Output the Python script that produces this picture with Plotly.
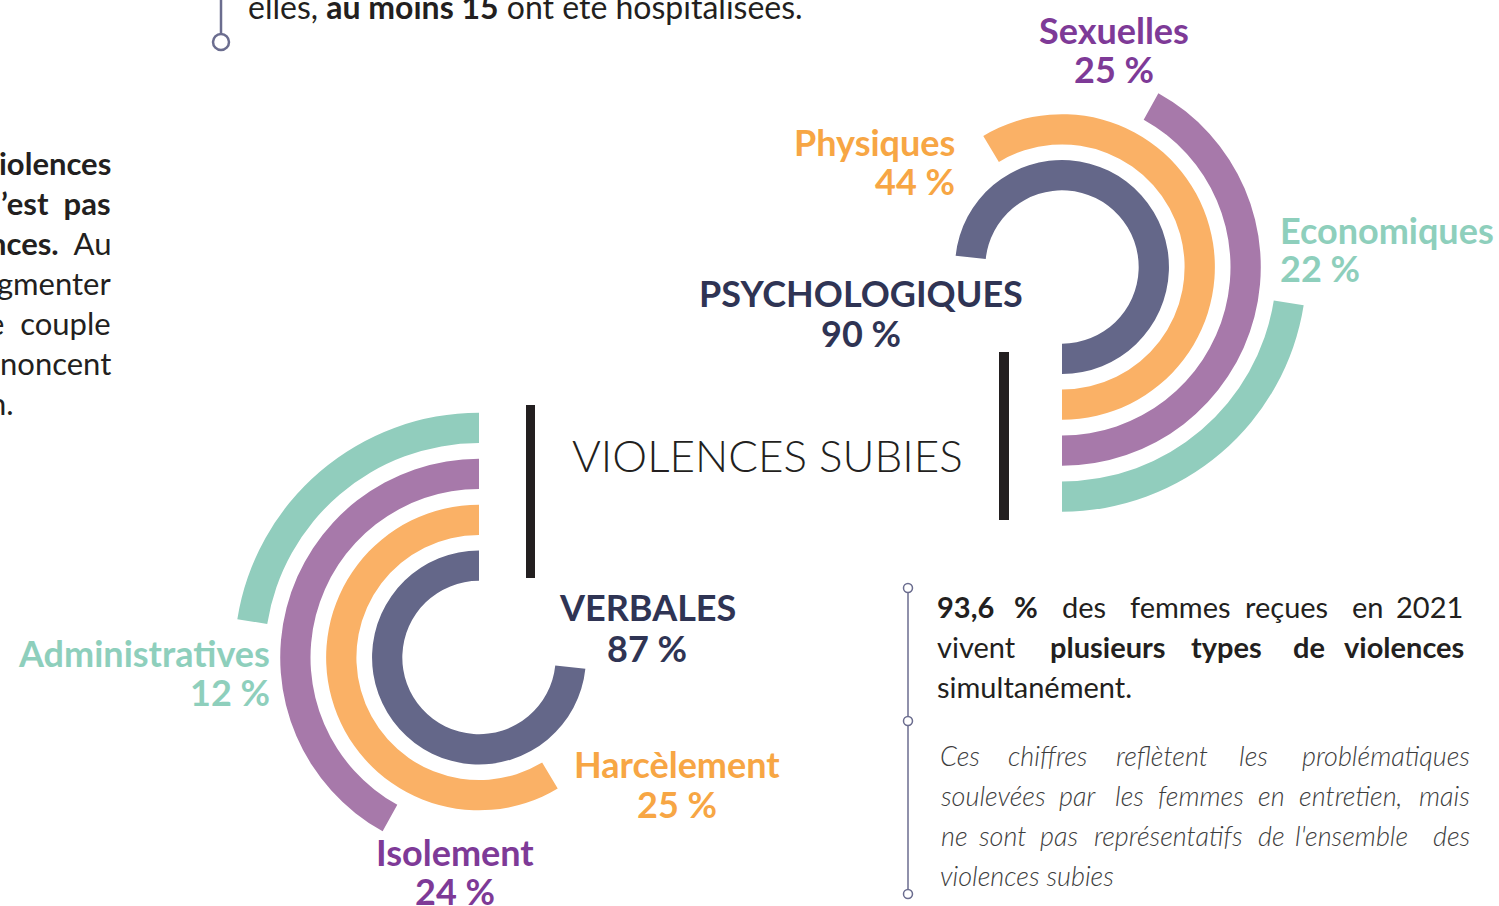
import plotly.graph_objects as go

W, H = 1499, 906

# ---------------- data ----------------
psy_labels = ["PSYCHOLOGIQUES", "Physiques", "Sexuelles", "Economiques"]
psy_values = [90, 44, 25, 22]
psy_arc_deg = [264, 211, 151, 81]          # arc sweep

verb_labels = ["VERBALES", "Harcèlement", "Isolement", "Administratives"]
verb_values = [87, 25, 24, 12]
verb_arc_deg = [264, 211, 151, 81]

ring_colors = ["#646789", "#fab166", "#a779aa", "#91cdbd"]
label_colors = ["#2f3454", "#f7a644", "#7e3a97", "#8ecfbc"]

# ---------------- geometry helpers ----------------
RMAX = 254.4
RING_BASE0, RING_STEP, RING_THICK = 78.5, 47.0, 31.0


def rings(values_sweep, start, subplot):
    n = len(values_sweep)
    return go.Barpolar(
        r=[RING_THICK] * n,
        base=[RING_BASE0 + RING_STEP * i for i in range(n)],
        theta=[start + s / 2.0 for s in values_sweep],
        width=values_sweep,
        marker=dict(color=ring_colors, line=dict(width=0)),
        hoverinfo="skip",
        subplot=subplot,
        showlegend=False,
    )


fig = go.Figure()
fig.add_trace(rings(psy_arc_deg, 270, "polar"))
fig.add_trace(rings(verb_arc_deg, 90, "polar2"))


def polar_layout(xd, yd):
    return dict(
        domain=dict(x=xd, y=yd),
        bgcolor="rgba(0,0,0,0)",
        radialaxis=dict(range=[0, RMAX], visible=False, showgrid=False),
        angularaxis=dict(visible=False, showgrid=False, direction="counterclockwise", rotation=0),
    )


R_PX = 248.5
cxr, cyr = 1062, 267
cxl, cyl = 479, 657.5
right_dom = polar_layout([(cxr - R_PX) / W, (cxr + R_PX) / W],
                         [(H - cyr - R_PX) / H, (H - cyr + R_PX) / H])
left_dom = polar_layout([(cxl - R_PX) / W, (cxl + R_PX) / W],
                        [0, (2 * R_PX) / H])

# ---------------- annotations ----------------
ann = []
NB = "\u00a0"


def T(text, x, y, size, color, xanchor="left", weight=None, style=None):
    f = dict(family="Lato", size=size, color=color)
    if weight is not None:
        f["weight"] = weight
    if style is not None:
        f["style"] = style
    ann.append(dict(text=text, x=x / W, y=1 - y / H, xref="paper", yref="paper",
                    showarrow=False, xanchor=xanchor, yanchor="middle", font=f))


LAB = 36
# right cluster labels
T(psy_labels[2], 1114, 30, LAB, label_colors[2], "center", 700)
T(f"{psy_values[2]} %", 1114, 69, LAB, label_colors[2], "center", 700)
T(psy_labels[1], 957, 142, LAB, label_colors[1], "right", 700)
T(f"{psy_values[1]} %", 957, 181, LAB, label_colors[1], "right", 700)
T(psy_labels[3], 1278, 230, LAB, label_colors[3], "left", 700)
T(f"{psy_values[3]} %", 1278, 268, LAB, label_colors[3], "left", 700)
T(psy_labels[0], 861, 293, LAB, label_colors[0], "center", 700)
T(f"{psy_values[0]} %", 861, 333, LAB, label_colors[0], "center", 700)
# left cluster labels
T(verb_labels[0], 647, 607, LAB, label_colors[0], "center", 700)
T(f"{verb_values[0]} %", 647, 648, LAB, label_colors[0], "center", 700)
T(verb_labels[3], 272, 653, LAB, label_colors[3], "right", 700)
T(f"{verb_values[3]} %", 272, 692, LAB, label_colors[3], "right", 700)
T(verb_labels[1], 677, 764, LAB, label_colors[1], "center", 700)
T(f"{verb_values[1]} %", 677, 804, LAB, label_colors[1], "center", 700)
T(verb_labels[2], 455, 852, LAB, label_colors[2], "center", 700)
T(f"{verb_values[2]} %", 455, 891, LAB, label_colors[2], "center", 700)

# title
T("VIOLENCES SUBIES", 767, 455, 44, "#231f20", "center", 300)

DARK = "#231f20"
# top text (cut at top)
T("elles, <b>au moins 15</b> ont été hospitalisées.", 246, 6, 32, DARK, "left")

# left paragraph (cut at left edge), justified lines
LEFTF = 31
left_lines = [
    ("<b>iolences</b>", 113),
    ("<b>’est" + NB * 2 + "pas</b>", 113),
    ("<b>nces.</b>" + NB * 2 + "Au", 113),
    ("gmenter", 113),
    ("e" + NB * 2 + "couple", 113),
    ("noncent", 113),
    ("n.", 16),
]
for li, (txt, xr) in enumerate(left_lines):
    T(txt, xr, 163 + 40 * li, LEFTF, DARK, "right")

# bottom-right paragraph, justified word by word
BODY = 29
para1 = [
    [("<b>93,6</b>", 935), ("<b>%</b>", 1012), ("des", 1060), ("femmes", 1128),
     ("reçues", 1243), ("en", 1350), ("2021", 1465, "right")],
    [("vivent", 935), ("<b>plusieurs</b>", 1048), ("<b>types</b>", 1189),
     ("<b>de</b>", 1291), ("<b>violences</b>", 1466, "right")],
    [("simultanément.", 935)],
]
for li, words in enumerate(para1):
    for w in words:
        T(w[0], w[1], 606 + 40 * li, BODY, DARK, w[2] if len(w) > 2 else "left")

GREY = "#3d3d3d"
ITAL = 27
para2 = [
    [("Ces", 938), ("chiffres", 1006), ("reflètent", 1114), ("les", 1237),
     ("problématiques", 1472, "right")],
    [("soulevées", 939), ("par", 1057), ("les", 1113), ("femmes", 1156), ("en", 1256),
     ("entretien,", 1297), ("mais", 1472, "right")],
    [("ne", 939), ("sont", 977), ("pas", 1038), ("représentatifs", 1092), ("de", 1256),
     ("l'ensemble", 1293), ("des", 1472, "right")],
    [("violences subies", 938)],
]
for li, words in enumerate(para2):
    for w in words:
        T(w[0], w[1], 755 + 40 * li, ITAL, GREY, w[2] if len(w) > 2 else "left", 300, "italic")

# ---------------- decorative shapes ----------------
shapes = []
CON = "#6b6d8f"


def S(**kw):
    d = dict(xref="paper", yref="paper", layer="above")
    d.update(kw)
    shapes.append(d)


def rect(x0, y0, x1, y1, color):
    S(type="rect", x0=x0 / W, x1=x1 / W, y0=1 - y1 / H, y1=1 - y0 / H,
      fillcolor=color, line=dict(width=0))


def vline(x, y0, y1, color, w):
    S(type="line", x0=x / W, x1=x / W, y0=1 - y0 / H, y1=1 - y1 / H, line=dict(color=color, width=w))


def circ(x, y, r, color, w):
    S(type="circle", x0=(x - r) / W, x1=(x + r) / W, y0=1 - (y + r) / H, y1=1 - (y - r) / H,
      fillcolor="white", line=dict(color=color, width=w))


rect(526, 405, 535, 578, "#231f20")
rect(999, 352, 1009, 520, "#231f20")

vline(221, -5, 34, CON, 2.5)
circ(221, 42, 8, CON, 2.5)

vline(908, 588, 894, CON, 1.5)
for yy in (588, 721, 894):
    circ(908, yy, 4.5, CON, 1.5)

fig.update_layout(
    width=W, height=H,
    margin=dict(l=0, r=0, t=0, b=0),
    paper_bgcolor="white",
    plot_bgcolor="white",
    polar=right_dom,
    polar2=left_dom,
    showlegend=False,
    annotations=ann,
    shapes=shapes,
    font=dict(family="Lato"),
)

fig.write_html(
    "out.html",
    config={"displayModeBar": False},
    post_script="document.body.style.margin='0px';document.body.style.padding='0px';"
                "document.body.style.overflow='hidden';",
)
